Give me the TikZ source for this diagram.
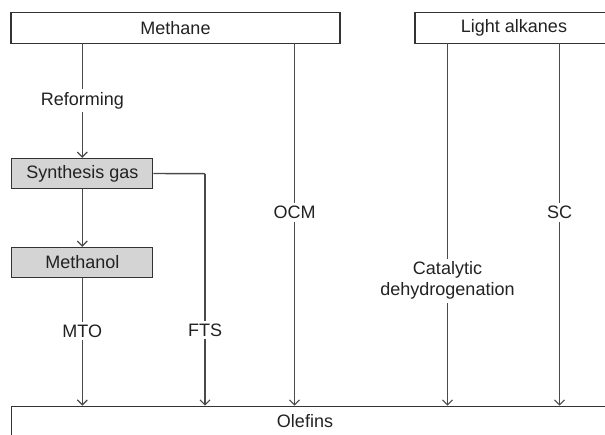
\documentclass[tikz,border=0pt]{standalone}
\usepackage{fontspec}
\setmainfont{Liberation Sans}
\usetikzlibrary{arrows.meta}
\definecolor{linec}{HTML}{4A4A4A}
\definecolor{boxc}{HTML}{333333}
\definecolor{fillc}{HTML}{D4D4D4}
\definecolor{txtc}{HTML}{222222}
\begin{document}
\begin{tikzpicture}[x=1pt,y=-1pt,
  font=\fontsize{18}{21}\selectfont, text=txtc,
  wbox/.style={draw=boxc, line width=1.3pt, fill=white, inner sep=0pt, anchor=center},
  gbox/.style={draw=boxc, line width=1.3pt, fill=fillc, inner sep=0pt, minimum width=141pt, minimum height=30pt},
  conn/.style={draw=linec, line width=1.4pt, -{Straight Barb[length=5pt,width=10pt,line width=1.2pt]}},
  lab/.style={fill=white, inner sep=3pt, align=center}]
\useasboundingbox (0,0) rectangle (605,434);
\begin{scope}
\clip (0,0) rectangle (605,434);
% top boxes
\node[wbox, minimum width=329pt, minimum height=30.6pt] (methane) at (175.5,28) {Methane};
\node[wbox, minimum width=198pt, minimum height=30.6pt] (alkanes) at (514,28) {Light alkanes};
% gray boxes
\node[gbox] (syn) at (82.3,173.5) {Synthesis gas};
\node[gbox] (meoh) at (82.3,262.5) {Methanol};
% olefins
\node[wbox, minimum width=608pt, minimum height=60pt, anchor=north west] (olefins) at (11,405.7) {};
\node[anchor=center] (olefinstxt) at (305,421) {Olefins};
% coordinates
\coordinate (m1) at (82.3,43.3);
\coordinate (m2) at (294.5,43.3);
\coordinate (a1) at (447.5,43.3);
\coordinate (a2) at (559.5,43.3);
\coordinate (fts) at (205,173.7);
% connectors
\draw[conn] (m1) -- node[lab, pos=0.5]{Reforming} (syn.north);
\draw[conn] (syn.south) -- (meoh.north);
\draw[conn] (meoh.south) -- node[lab, pos=0.414]{MTO} (meoh.south |- olefins.north);
\draw[draw=linec, line width=1.4pt] (syn.east) -- (fts);
\draw[conn] (fts) -- node[lab, pos=0.674]{FTS} (fts |- olefins.north);
\draw[conn] (m2) -- node[lab, pos=0.467]{OCM} (m2 |- olefins.north);
\draw[conn] (a1) -- node[lab, pos=0.655]{Catalytic\\dehydrogenation} (a1 |- olefins.north);
\draw[conn] (a2) -- node[lab, pos=0.467]{SC} (a2 |- olefins.north);
\end{scope}
\end{tikzpicture}
\end{document}
